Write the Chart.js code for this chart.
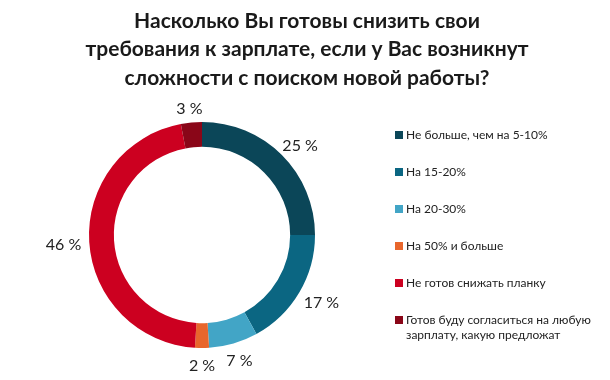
<!DOCTYPE html>
<html><head><meta charset="utf-8">
<script src="https://cdn.jsdelivr.net/npm/chart.js@4"></script>
<style>html,body{margin:0;padding:0;background:#fff;}#wrap{width:610px;height:380px;position:relative;}</style>
</head><body><div id="wrap"><canvas id="c" width="610" height="380"></canvas></div>
<script>
const titleLines = ["Насколько Вы готовы снизить свои", "требования к зарплате, если у Вас возникнут", "сложности с поиском новой работы?"];
const categories = [
  ["Не больше, чем на 5-10%"],
  ["На 15-20%"],
  ["На 20-30%"],
  ["На 50% и больше"],
  ["Не готов снижать планку"],
  ["Готов буду согласиться на любую", "зарплату, какую предложат"]
];
const values = [25, 17, 7, 2, 46, 3];
const colors = ["#0b4658", "#0b6682", "#42a5c6", "#e8662c", "#cc0020", "#8a0618"];

const FONT = "Lato, 'Open Sans', sans-serif";

const titlePlugin = {
  id: 'customTitle',
  afterDraw(chart) {
    const ctx = chart.ctx;
    ctx.save();
    ctx.fillStyle = '#1a1a1a';
    ctx.font = "bold 21px " + FONT;
    ctx.textAlign = 'center';
    ctx.textBaseline = 'middle';
    titleLines.forEach((t, i) => ctx.fillText(t, 307, 21 + i * 28.5));
    ctx.restore();
  }
};

const labelPlugin = {
  id: 'outsideLabels',
  afterDatasetsDraw(chart) {
    const ctx = chart.ctx;
    const meta = chart.getDatasetMeta(0);
    ctx.save();
    ctx.font = "16px " + FONT;
    ctx.fillStyle = '#222';
    ctx.textAlign = 'center';
    ctx.textBaseline = 'middle';
    meta.data.forEach((arc, i) => {
      const p = arc.getProps(['x', 'y', 'startAngle', 'endAngle', 'outerRadius'], true);
      const a = (p.startAngle + p.endAngle) / 2;
      const txt = values[i] + ' %';
      const w = ctx.measureText(txt).width;
      const h = 16;
      const r = p.outerRadius + 8;
      const cx = p.x + Math.cos(a) * r + Math.cos(a) * w / 2;
      const cy = p.y + Math.sin(a) * r + Math.sin(a) * h / 2 + 2;
      ctx.fillText(txt, cx, cy);
    });
    ctx.restore();
  }
};

const legendPlugin = {
  id: 'customLegend',
  afterDraw(chart) {
    const ctx = chart.ctx;
    ctx.save();
    ctx.font = "12px " + FONT;
    ctx.textBaseline = 'middle';
    ctx.textAlign = 'left';
    categories.forEach((lines, i) => {
      const y = 135 + i * 37;
      ctx.fillStyle = colors[i];
      ctx.fillRect(395, y - 4, 8, 8);
      ctx.fillStyle = '#222';
      lines.forEach((t, j) => ctx.fillText(t, 406, y + j * 15.5));
    });
    ctx.restore();
  }
};

new Chart(document.getElementById('c'), {
  type: 'doughnut',
  data: {
    labels: categories.map(l => l.join(' ')),
    datasets: [{
      data: values,
      backgroundColor: colors,
      borderWidth: 0
    }]
  },
  options: {
    responsive: false,
    animation: false,
    cutout: '78%',
    layout: { padding: { left: 89, right: 295, top: 122, bottom: 32 } },
    plugins: { legend: { display: false }, title: { display: false }, tooltip: { enabled: false } }
  },
  plugins: [titlePlugin, labelPlugin, legendPlugin]
});
</script>
</body></html>
